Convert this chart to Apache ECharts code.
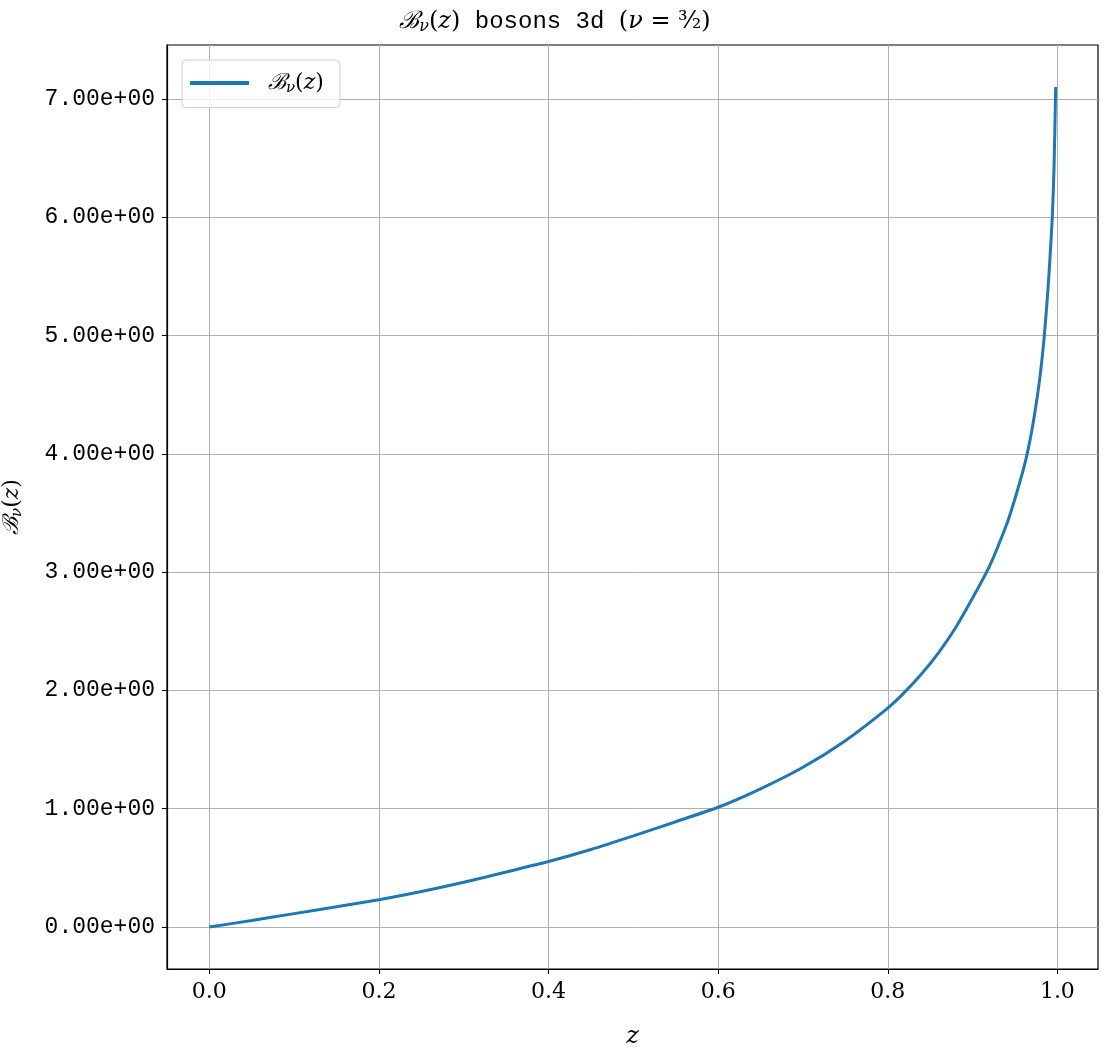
<!DOCTYPE html>
<html>
<head>
<meta charset="utf-8">
<title>B_nu(z) bosons 3d</title>
<script src="https://cdn.jsdelivr.net/npm/echarts@6/dist/echarts.min.js"></script>
<style>
  html, body { margin: 0; padding: 0; background: #fff; }
  #box { width: 1110px; height: 1050px; }
</style>
</head>
<body>
<div id="box"></div>
<script>
// z values (x axis)
var zVals = [0, 0.05, 0.1, 0.15, 0.2, 0.25, 0.3, 0.35, 0.4, 0.45, 0.5, 0.55, 0.6, 0.65, 0.7, 0.75,
  0.8, 0.82, 0.84, 0.86, 0.88, 0.9, 0.92, 0.94, 0.95, 0.96, 0.965, 0.97, 0.975, 0.98, 0.984,
  0.988, 0.991, 0.994, 0.996, 0.998]
// B_nu(z)
var bVals = [0, 0.055, 0.113, 0.171, 0.231, 0.300, 0.378, 0.465, 0.553, 0.655, 0.770, 0.890, 1.012, 1.168, 1.350, 1.575,
  1.850, 1.985, 2.14, 2.32, 2.53, 2.78, 3.05, 3.40, 3.62, 3.87, 4.02, 4.2, 4.42, 4.68, 4.95,
  5.3, 5.62, 6.0, 6.4, 7.1]

var xTicks = [0, 0.2, 0.4, 0.6, 0.8, 1.0]
var yTicks = [0, 1, 2, 3, 4, 5, 6, 7]

var mono = '"Liberation Mono", "DejaVu Sans Mono", monospace'
var serif = '"DejaVu Serif", "Liberation Serif", serif'

var points = zVals.map(function (z, i) { return [z, bVals[i]] })

// math-ish rich styles
function mathRich(size) {
  return {
    b: { fontFamily: serif, fontStyle: 'italic', fontWeight: 'normal', fontSize: size, color: '#000' },
    s: { fontFamily: serif, fontStyle: 'italic', fontWeight: 'normal', fontSize: Math.round(size * 0.68), color: '#000', padding: [Math.round(size * 0.45), 0, 0, 0] },
    n: { fontFamily: serif, fontWeight: 'normal', fontSize: size, color: '#000' },
    i: { fontFamily: serif, fontStyle: 'italic', fontWeight: 'normal', fontSize: size, color: '#000' },
    t: { fontFamily: mono, fontWeight: 'normal', fontSize: size, color: '#000' },
    f: { fontFamily: serif, fontWeight: 'normal', fontSize: size, color: '#000' }
  }
}

var BNU = '{b|ℬ}{s|ν}{n|(}{i|z}{n|)}'

var myChart = echarts.init(document.getElementById('box'))
window.addEventListener('resize', function () { myChart.resize() })

myChart.setOption({
  backgroundColor: '#fff',
  animation: false,
  title: {
    text: BNU + '{t| bosons 3d }{n|(}{i|ν}{n| = }{f|³⁄₂}{n|)}',
    left: 'center',
    top: 3,
    textStyle: { fontWeight: 'normal', rich: mathRich(24) }
  },
  legend: {
    left: 182,
    top: 60,
    padding: [12, 16, 12, 8],
    icon: 'rect',
    itemWidth: 59,
    itemHeight: 4,
    borderColor: '#d0d0d0',
    borderWidth: 1,
    borderRadius: 4,
    backgroundColor: 'rgba(255,255,255,0.8)',
    formatter: function () { return BNU },
    textStyle: { padding: [0, 0, 0, 14], rich: mathRich(22) },
    data: ['B']
  },
  grid: {
    left: 167,
    right: 12,
    top: 45,
    bottom: 81,
    outerBoundsMode: 'none',
    show: true,
    borderColor: '#000',
    borderWidth: 1.2,
    backgroundColor: 'transparent'
  },
  xAxis: {
    type: 'value',
    min: -0.0499,
    max: 1.0479,
    name: 'z',
    nameLocation: 'middle',
    nameGap: 56,
    nameTextStyle: { fontFamily: serif, fontStyle: 'italic', fontSize: 24, color: '#000' },
    axisLine: { show: true, onZero: false, lineStyle: { color: '#000', width: 1.2 } },
    axisTick: { show: true, length: 5, customValues: xTicks, lineStyle: { color: '#000' } },
    axisLabel: {
      customValues: xTicks,
      margin: 12,
      fontFamily: serif,
      fontSize: 22,
      color: '#000',
      formatter: function (v) { return v.toFixed(1) }
    },
    splitLine: { show: true, lineStyle: { color: '#b0b0b0', width: 1 } }
  },
  yAxis: {
    type: 'value',
    min: -0.355,
    max: 7.455,
    name: BNU,
    nameLocation: 'middle',
    nameGap: 142,
    nameRotate: 90,
    nameTextStyle: { rich: mathRich(22) },
    axisLine: { show: true, onZero: false, lineStyle: { color: '#000', width: 1.2 } },
    axisTick: { show: true, length: 5, customValues: yTicks, lineStyle: { color: '#000' } },
    axisLabel: {
      customValues: yTicks,
      margin: 12,
      fontFamily: mono,
      fontSize: 23,
      color: '#000',
      formatter: function (v) { return v.toFixed(2) + 'e+00' }
    },
    splitLine: { show: true, lineStyle: { color: '#b0b0b0', width: 1 } }
  },
  series: [
    {
      name: 'B',
      type: 'line',
      data: points,
      showSymbol: false,
      symbol: 'none',
      smooth: 0.2,
      color: '#1f77b4',
      lineStyle: { color: '#1f77b4', width: 3 }
    }
  ]
})
</script>
</body>
</html>
